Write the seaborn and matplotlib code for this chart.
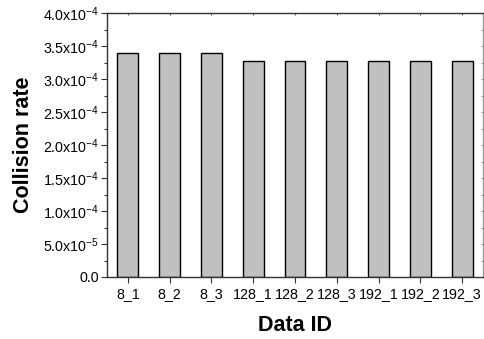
import pandas as pd
import seaborn as sns
import matplotlib.pyplot as plt
from matplotlib.ticker import MultipleLocator, FuncFormatter

# values
data_ids = ['8_1', '8_2', '8_3', '128_1', '128_2', '128_3', '192_1', '192_2', '192_3']
collision_rate = [3.39e-4, 3.39e-4, 3.39e-4, 3.28e-4, 3.28e-4, 3.28e-4, 3.27e-4, 3.27e-4, 3.27e-4]

df = pd.DataFrame({'Data ID': data_ids, 'Collision rate': collision_rate})

sns.set_theme(style="ticks")
plt.rcParams['font.family'] = ['Liberation Sans', 'DejaVu Sans']
plt.rcParams['mathtext.default'] = 'regular'
plt.rcParams['text.color'] = 'black'
plt.rcParams['axes.labelcolor'] = 'black'
plt.rcParams['xtick.color'] = 'black'
plt.rcParams['ytick.color'] = 'black'

fig = plt.figure(figsize=(4.84, 3.39), dpi=100)
ax = fig.add_axes([107 / 484, 1 - 277 / 339, 376 / 484, 264 / 339])

sns.barplot(data=df, x='Data ID', y='Collision rate', color='#c0c0c0',
            edgecolor='black', linewidth=1.0, width=0.5, saturation=1, ax=ax)

ax.set_xlim(-0.5, len(data_ids) - 0.5)
ax.set_ylim(0, 4.0e-4)
ax.yaxis.set_major_locator(MultipleLocator(5e-5))
ax.yaxis.set_minor_locator(MultipleLocator(2.5e-5))


def sci_fmt(v, pos):
    if v == 0:
        return '0.0'
    exp = int(f'{v:.1e}'.split('e')[1])
    mant = v / 10 ** exp
    return f'{mant:.1f}x10$^{{{exp}}}$'


ax.yaxis.set_major_formatter(FuncFormatter(sci_fmt))

for name, s in ax.spines.items():
    s.set_color('#333333')
    s.set_linewidth(1.0)
ax.spines['right'].set_color('#999999')

ax.tick_params(axis='both', which='major', labelsize=10.3, length=4, width=0.8,
               color='#333333', pad=2, direction='out')
ax.tick_params(axis='y', which='minor', length=2.5, width=0.8, color='#333333',
               direction='out')
ax.tick_params(axis='x', pad=3)

# faint inward ticks on the top and right frame
top = ax.secondary_xaxis('top')
top.set_xticks(range(len(data_ids)))
top.tick_params(direction='in', length=1.5, width=0.8, color='#555555', labeltop=False)
top.spines['top'].set_visible(False)
right = ax.secondary_yaxis('right')
right.yaxis.set_major_locator(MultipleLocator(5e-5))
right.yaxis.set_minor_locator(MultipleLocator(2.5e-5))
right.tick_params(which='both', direction='in', length=1.5, width=0.8,
                  color='#999999', labelright=False)
right.spines['right'].set_visible(False)

ax.set_xlabel('Data ID', fontsize=15.5, fontweight='bold', labelpad=10)
ax.set_ylabel('Collision rate', fontsize=15.5, fontweight='bold', labelpad=6)

fig.savefig('out.png', dpi=100)
